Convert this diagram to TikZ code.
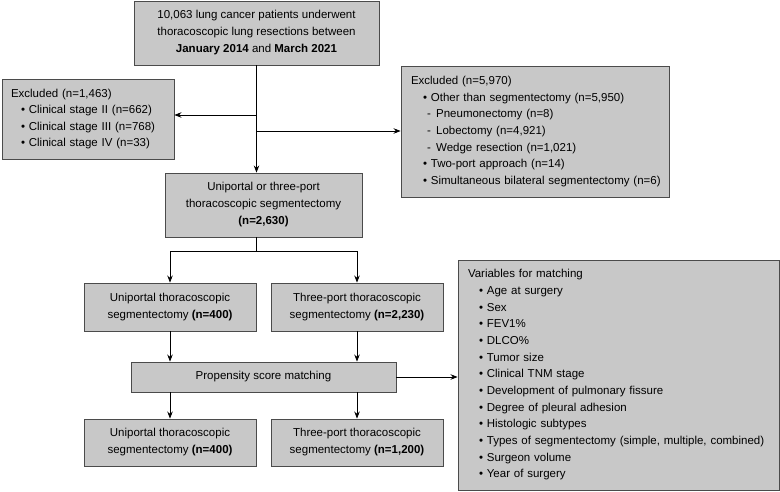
\documentclass[tikz,border=0pt]{standalone}
\usepackage{fontspec}
\setmainfont{Liberation Sans}
\usetikzlibrary{arrows.meta}
\definecolor{boxfill}{RGB}{200,200,200}
\definecolor{boxline}{RGB}{75,75,75}
\begin{document}
\begin{tikzpicture}[x=1pt,y=-1pt,
  box/.style={draw=boxline,line width=0.9pt,fill=boxfill,rectangle,inner sep=0pt,
    font=\fontsize{11.5}{17}\selectfont,align=center},
  listbox/.style={box,align=left,inner xsep=#1,inner ysep=0pt},
  arr/.style={-{Stealth[length=7pt,width=5.5pt]},line width=0.8pt,draw=black},
  ln/.style={line width=0.8pt,draw=black}]
\useasboundingbox (0,0) rectangle (780,492);
\node[box,minimum width=245pt,minimum height=64pt] (top) at (256.5,33)
  {10,063 lung cancer patients underwent\\thoracoscopic lung resections between\\\textbf{January 2014} and \textbf{March 2021}};
\node[listbox=9pt,minimum width=172pt,minimum height=80pt,text width=154pt,font=\fontsize{11.5}{16.5}\selectfont] (exL) at (88,119)
  {Excluded (n=1,463)\\
   \hspace*{10pt}• Clinical stage II (n=662)\\
   \hspace*{10pt}• Clinical stage III (n=768)\\
   \hspace*{10pt}• Clinical stage IV (n=33)};
\node[listbox=8pt,minimum width=268pt,minimum height=131pt,text width=252pt,font=\fontsize{11.5}{16.67}\selectfont] (exR) at (535,131.5)
  {\hspace*{2pt}Excluded (n=5,970)\\
   \hspace*{14pt}• Other than segmentectomy (n=5,950)\\
   \hspace*{18pt}- \hspace{1.5pt}Pneumonectomy (n=8)\\
   \hspace*{18pt}- \hspace{1.5pt}Lobectomy (n=4,921)\\
   \hspace*{18pt}- \hspace{1.5pt}Wedge resection (n=1,021)\\
   \hspace*{14pt}• Two-port approach (n=14)\\
   \hspace*{14pt}• Simultaneous bilateral segmentectomy (n=6)};
\node[box,minimum width=197pt,minimum height=64pt] (mid) at (263.5,205)
  {Uniportal or three-port\\thoracoscopic segmentectomy\\\textbf{(n=2,630)}};
\node[box,minimum width=172pt,minimum height=48pt] (uni1) at (170,307)
  {Uniportal thoracoscopic\\segmentectomy \textbf{(n=400)}};
\node[box,minimum width=172pt,minimum height=48pt] (thr1) at (357,307)
  {Three-port thoracoscopic\\segmentectomy \textbf{(n=2,230)}};
\node[box,minimum width=265pt,minimum height=30pt] (psm) at (263.5,377)
  {Propensity score matching};
\node[box,minimum width=172pt,minimum height=47pt] (uni2) at (170,442.5)
  {Uniportal thoracoscopic\\segmentectomy \textbf{(n=400)}};
\node[box,minimum width=172pt,minimum height=47pt] (thr2) at (357,442.5)
  {Three-port thoracoscopic\\segmentectomy \textbf{(n=1,200)}};
\node[listbox=10pt,minimum width=321pt,minimum height=230pt,text width=301pt,font=\fontsize{11.5}{16.67}\selectfont] (var) at (618.5,375)
  {Variables for matching\\
   \hspace*{11pt}• Age at surgery\\
   \hspace*{11pt}• Sex\\
   \hspace*{11pt}• FEV1\%\\
   \hspace*{11pt}• DLCO\%\\
   \hspace*{11pt}• Tumor size\\
   \hspace*{11pt}• Clinical TNM stage\\
   \hspace*{11pt}• Development of pulmonary fissure\\
   \hspace*{11pt}• Degree of pleural adhesion\\
   \hspace*{11pt}• Histologic subtypes\\
   \hspace*{11pt}• Types of segmentectomy (simple, multiple, combined)\\
   \hspace*{11pt}• Surgeon volume\\
   \hspace*{11pt}• Year of surgery};
% connectors
\coordinate (bL) at (256.5,115);
\coordinate (bR) at (256.5,131);
\coordinate (sp) at (256.5,251);
\draw[arr] (top.south) -- (top.south |- mid.north);
\draw[arr] (bL) -- (exL.east |- bL);
\draw[arr] (bR) -- (exR.west |- bR);
\draw[ln] (sp |- mid.south) -- (sp);
\draw[arr] (sp) -| (uni1.north);
\draw[arr] (sp) -| (thr1.north);
\draw[arr] (uni1.south) -- (uni1.south |- psm.north);
\draw[arr] (thr1.south) -- (thr1.south |- psm.north);
\draw[arr] (uni2.north |- psm.south) -- (uni2.north);
\draw[arr] (thr2.north |- psm.south) -- (thr2.north);
\draw[arr] (psm.east) -- (psm.east -| var.west);
\end{tikzpicture}
\end{document}
